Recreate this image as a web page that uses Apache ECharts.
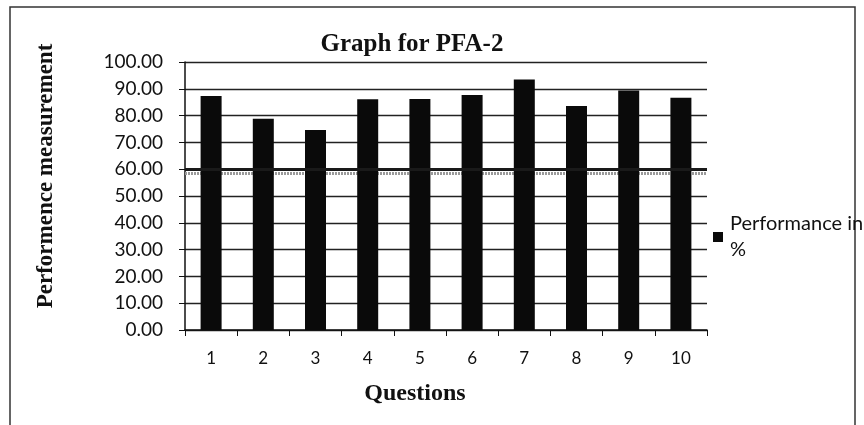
<!DOCTYPE html>
<html>
<head>
<meta charset="utf-8">
<script src="https://cdn.jsdelivr.net/npm/echarts@6/dist/echarts.min.js"></script>
<style>
  html, body { margin: 0; padding: 0; background: #fff; }
  #chart { width: 864px; height: 425px; }
</style>
</head>
<body>
<div id="chart"></div>
<script>
// chart data
const questions = ['1', '2', '3', '4', '5', '6', '7', '8', '9', '10'];
const performance = [87.3, 78.8, 74.6, 86.1, 86.2, 87.7, 93.5, 83.6, 89.4, 86.7];
const targetLevel = 60;

const chart = echarts.init(document.getElementById('chart'));

const option = {
  backgroundColor: '#fff',
  animation: false,
  title: {
    text: 'Graph for PFA-2',
    left: 407,
    top: 27,
    textAlign: 'center',
    textStyle: {
      fontFamily: 'Liberation Serif',
      fontWeight: 'bold',
      fontSize: 25,
      color: '#111'
    }
  },
  legend: {
    data: ['Performance in %'],
    left: 708,
    top: 206,
    orient: 'vertical',
    icon: 'rect',
    itemWidth: 10,
    itemHeight: 10,
    formatter: () => 'Performance in\n%',
    textStyle: {
      fontFamily: 'Lato',
      fontSize: 20,
      color: '#111',
      lineHeight: 26,
      padding: [0, 0, 0, 2]
    }
  },
  grid: {
    left: 185,
    right: 157,
    top: 62,
    bottom: 95
  },
  xAxis: {
    type: 'category',
    data: questions,
    name: 'Questions',
    nameLocation: 'middle',
    nameGap: 52,
    nameTextStyle: {
      fontFamily: 'Liberation Serif',
      fontWeight: 'bold',
      fontSize: 24,
      color: '#111',
      padding: [0, 62, 0, 0]
    },
    axisLine: { lineStyle: { color: '#111', width: 1.5 } },
    axisTick: { show: true, length: 6, lineStyle: { color: '#111' } },
    axisLabel: {
      margin: 20,
      fontFamily: 'Lato',
      fontSize: 17,
      color: '#111'
    }
  },
  yAxis: {
    type: 'value',
    min: 0,
    max: 100,
    interval: 10,
    name: 'Performence measurement',
    nameLocation: 'middle',
    nameGap: 127,
    nameTextStyle: {
      fontFamily: 'Liberation Serif',
      fontWeight: 'bold',
      fontSize: 23,
      color: '#111',
      padding: [0, 0, 0, 40]
    },
    axisLine: { show: true, lineStyle: { color: '#111', width: 1.5 } },
    axisTick: { show: true, length: 6, lineStyle: { color: '#111' } },
    axisLabel: {
      margin: 22,
      fontFamily: 'Lato',
      fontSize: 19,
      color: '#111',
      formatter: (v) => v.toFixed(2)
    },
    splitLine: { show: true, lineStyle: { color: '#222', width: 1.3 } }
  },
  series: [
    {
      name: 'Performance in %',
      type: 'bar',
      data: performance,
      barWidth: 21,
      itemStyle: { color: '#0a0a0a' },
      markLine: {
        silent: true,
        symbol: 'none',
        label: { show: false },
        lineStyle: { color: '#1a1a1a', width: 3, type: 'solid' },
        data: [{ yAxis: targetLevel }]
      },
      z: 3
    },
    {
      // grey shading just under the target line
      name: 'shade',
      type: 'line',
      data: [],
      markLine: {
        silent: true,
        z: 1,
        symbol: 'none',
        label: { show: false },
        lineStyle: { color: '#9a9a9a', width: 3, type: [2, 1] },
        data: [{ yAxis: targetLevel - 1.6 }]
      },
      z: 1
    }
  ],
  graphic: [
    {
      type: 'rect',
      shape: { x: 10, y: 7, width: 845, height: 430 },
      style: { fill: 'none', stroke: '#333', lineWidth: 1.5 },
      silent: true
    }
  ]
};

chart.setOption(option);
</script>
</body>
</html>
